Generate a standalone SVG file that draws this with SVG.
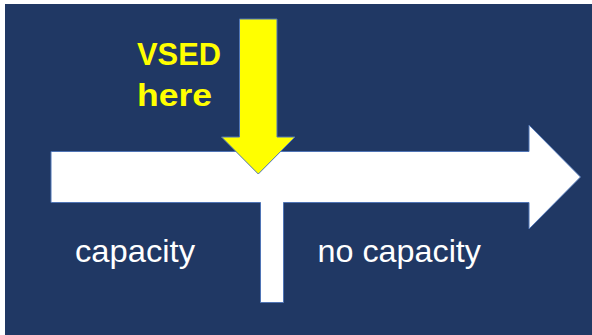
<svg xmlns="http://www.w3.org/2000/svg" width="592" height="335" viewBox="0 0 592 335">
  <style>
    .lbl { font-family: "Liberation Sans", Arial, sans-serif; font-size: 32px; fill: #FFFFFF; }
    .hl { font-family: "Liberation Sans", Arial, sans-serif; font-size: 31px; font-weight: bold; fill: #FFFF00; }
    .shape { stroke: #4F74B5; stroke-width: 1; stroke-linejoin: miter; }
  </style>
  <rect x="0" y="0" width="592" height="335" fill="#FFFFFF"/>
  <rect id="background" x="5" y="4" width="587" height="331" fill="#203864"/>
  <g id="connectors">
    <polygon id="timeline" class="shape" fill="#FFFFFF" points="51,151.5 529,151.5 529,125 580.5,177 529,229 529,202.5 283.5,202.5 283.5,302.5 260.5,302.5 260.5,202.5 51,202.5"/>
    <polygon id="vsed-arrow" class="shape" fill="#FFFF00" points="239.5,19 277,19 277,137 295,137 258.3,174 221.5,137 239.5,137"/>
  </g>
  <g id="vsed-label">
    <text class="hl" x="137" y="65" textLength="84" lengthAdjust="spacingAndGlyphs">VSED</text>
    <text class="hl" x="137" y="106" textLength="75" lengthAdjust="spacingAndGlyphs">here</text>
  </g>
  <g id="capacity">
    <text class="lbl" x="75" y="261.5" textLength="120" lengthAdjust="spacingAndGlyphs">capacity</text>
  </g>
  <g id="no-capacity">
    <text class="lbl" x="317.5" y="261.5" textLength="163.5" lengthAdjust="spacingAndGlyphs">no capacity</text>
  </g>
</svg>
